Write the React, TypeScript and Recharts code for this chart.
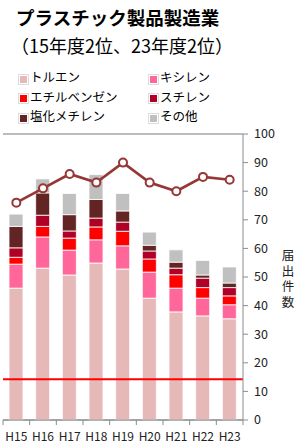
import { ComposedChart, Bar, Line, XAxis, YAxis, CartesianGrid, ReferenceLine } from "recharts";

const categories = ["H15", "H16", "H17", "H18", "H19", "H20", "H21", "H22", "H23"];
const toluene = [46.1, 53.1, 50.7, 54.9, 52.8, 42.6, 37.8, 36.4, 35.4];
const xylene = [8.4, 10.9, 8.7, 8.1, 8.1, 9.1, 8.3, 6.2, 4.9];
const ethylbenzene = [2.4, 3.7, 4.2, 4.5, 5.1, 4.6, 4.7, 3.7, 3.1];
const styrene = [3.3, 3.9, 2.5, 3.1, 3.2, 2.8, 2.3, 3.3, 2.9];
const methyleneChloride = [7.5, 7.8, 5.7, 6.5, 3.9, 2.0, 2.1, 1.1, 1.6];
const others = [4.3, 4.9, 7.4, 8.7, 6.1, 4.6, 4.3, 5.1, 5.6];
const reportCount = [76, 81, 86, 83, 90, 83, 80, 85, 84];
const rightTicks = [0, 10, 20, 30, 40, 50, 60, 70, 80, 90, 100];
const gridTicks = [0, 10, 20, 30, 40, 50, 60, 70];
// threshold sits on the first grid step of the 0-70 left scale
const thresholdValue = 10;
const gridMax = 70;
const rightMax = 100;

const series = [
  { key: "toluene", name: "トルエン", color: "#E6B9B8" },
  { key: "xylene", name: "キシレン", color: "#FF6699" },
  { key: "ethylbenzene", name: "エチルベンゼン", color: "#FF0000" },
  { key: "styrene", name: "スチレン", color: "#B00028" },
  { key: "methyleneChloride", name: "塩化メチレン", color: "#632523" },
  { key: "others", name: "その他", color: "#C0C0C0" },
];

const data = categories.map((name, i) => ({
  name,
  toluene: toluene[i],
  xylene: xylene[i],
  ethylbenzene: ethylbenzene[i],
  styrene: styrene[i],
  methyleneChloride: methyleneChloride[i],
  others: others[i],
  count: reportCount[i],
}));

const FONT = '"Noto Sans CJK JP", "Noto Sans", sans-serif';
const AXIS = "#8c8c8c";

function XTick(props: any) {
  const { x, y, payload, index } = props;
  const off = payload?.offset ?? 13.3;
  const last = index === categories.length - 1;
  return (
    <g>
      <line x1={x - off} x2={x - off} y1={y} y2={y + 5} stroke={AXIS} />
      {last && <line x1={x + off} x2={x + off} y1={y} y2={y + 5} stroke={AXIS} />}
      <text x={x} y={y + 21} textAnchor="middle" fill="#222" fontSize={12}>
        {payload.value}
      </text>
    </g>
  );
}

function AxisTitle() {
  return (
    <text
      x={288}
      y={249}
      fill="#222"
      fontSize={12.5}
      style={{ writingMode: "vertical-rl", textOrientation: "upright", letterSpacing: 3 }}
    >
      届出件数
    </text>
  );
}

export default function App() {
  return (
    <div
      style={{
        position: "absolute",
        left: 0,
        top: 0,
        width: 297,
        height: 448,
        background: "#fff",
        fontFamily: FONT,
        color: "#000",
      }}
    >
      <div style={{ position: "absolute", left: 16, top: 4, fontSize: 18.5, fontWeight: 700, whiteSpace: "nowrap" }}>
        プラスチック製品製造業
      </div>
      <div style={{ position: "absolute", left: 11, top: 32, fontSize: 18, whiteSpace: "nowrap" }}>
        （15年度2位、23年度2位）
      </div>
      {series.map((s, i) => (
        <div
          key={s.key}
          style={{
            position: "absolute",
            left: i % 2 === 0 ? 19 : 149,
            top: 67 + Math.floor(i / 2) * 19.5,
            display: "flex",
            alignItems: "center",
            fontSize: 12.5,
            whiteSpace: "nowrap",
          }}
        >
          <span
            style={{
              display: "inline-block",
              width: 7,
              height: 7,
              background: s.color,
              border: "1px solid #fff",
              outline: "0.5px solid #ddd",
              marginRight: 2,
              marginTop: 5,
            }}
          />
          {s.name}
        </div>
      ))}
      <div style={{ position: "absolute", left: 0, top: 0 }}>
        <ComposedChart
          width={297}
          height={448}
          data={data}
          margin={{ top: 134, right: 14, bottom: 0, left: 3 }}
          style={{ fontFamily: FONT }}
        >
          <CartesianGrid yAxisId="grid" vertical={false} stroke="#a6a6a6" strokeWidth={1.3} />
          <XAxis
            dataKey="name"
            height={28}
            tickSize={0}
            tickMargin={0}
            tickLine={false}
            axisLine={{ stroke: AXIS }}
            tick={<XTick />}
            interval={0}
          />
          <YAxis
            yAxisId="grid"
            domain={[0, gridMax]}
            ticks={gridTicks}
            width={0}
            tick={false}
            tickLine={false}
            axisLine={{ stroke: AXIS }}
          />
          <YAxis
            yAxisId="right"
            orientation="right"
            domain={[0, rightMax]}
            ticks={rightTicks}
            width={40}
            tickSize={5}
            tickMargin={6}
            tickLine={{ stroke: AXIS }}
            axisLine={{ stroke: AXIS }}
            tick={{ fill: "#222", fontSize: 12.5 }}
            interval={0}
            label={<AxisTitle />}
          />
          {series.map((s) => (
            <Bar
              key={s.key}
              yAxisId="right"
              dataKey={s.key}
              stackId="a"
              fill={s.color}
              stroke="#fff"
              strokeWidth={0.8}
              barSize={14}
              isAnimationActive={false}
            />
          ))}
          <Line
            yAxisId="right"
            dataKey="count"
            stroke="#953735"
            strokeWidth={2.7}
            dot={{ r: 4, fill: "#fff", stroke: "#953735", strokeWidth: 2 }}
            isAnimationActive={false}
          />
          <ReferenceLine
            yAxisId="right"
            y={(thresholdValue * rightMax) / gridMax}
            stroke="#FF0000"
            strokeWidth={2}
            ifOverflow="visible"
          />
        </ComposedChart>
      </div>
    </div>
  );
}
